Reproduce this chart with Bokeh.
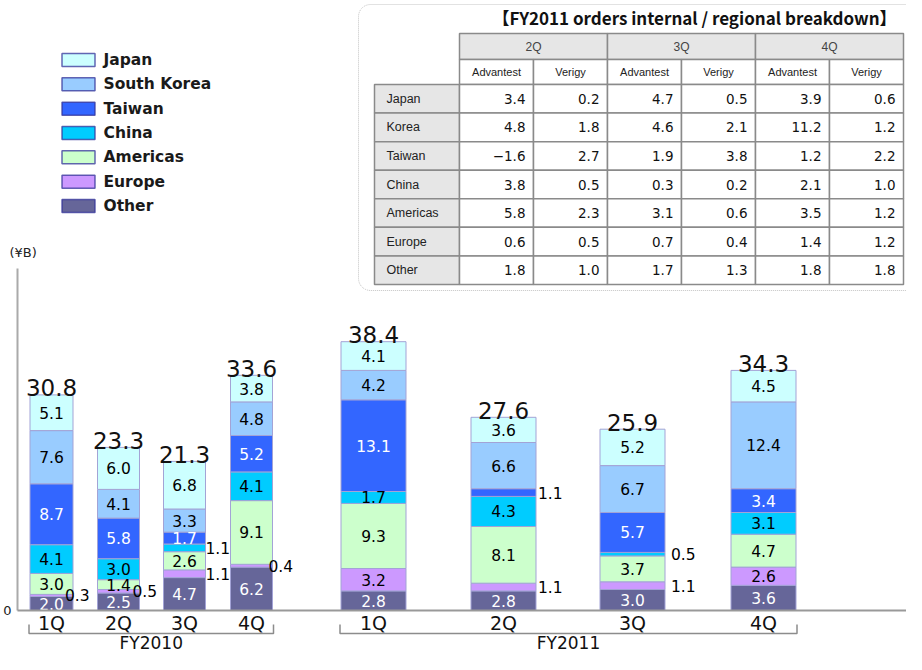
import numpy as np
from bokeh.plotting import figure
from bokeh.models import Range1d, ColumnDataSource
from bokeh.core.properties import value
from bokeh.embed import file_html
from bokeh.resources import INLINE

# ---------------- data ----------------
regions = ["Japan", "South Korea", "Taiwan", "China", "Americas", "Europe", "Other"]
quarters = ["1Q", "2Q", "3Q", "4Q", "1Q", "2Q", "3Q", "4Q"]
fiscal_years = ["FY2010", "FY2011"]
other = [2.0, 2.5, 4.7, 6.2, 2.8, 2.8, 3.0, 3.6]
europe = [0.3, 0.5, 1.1, 0.4, 3.2, 1.1, 1.1, 2.6]
americas = [3.0, 1.4, 2.6, 9.1, 9.3, 8.1, 3.7, 4.7]
china = [4.1, 3.0, 1.1, 4.1, 1.7, 4.3, 0.5, 3.1]
taiwan = [8.7, 5.8, 1.7, 5.2, 13.1, 1.1, 5.7, 3.4]
south_korea = [7.6, 4.1, 3.3, 4.8, 4.2, 6.6, 6.7, 12.4]
japan = [5.1, 6.0, 6.8, 3.8, 4.1, 3.6, 5.2, 4.5]
totals = [30.8, 23.3, 21.3, 33.6, 38.4, 27.6, 25.9, 34.3]
unit_label = "(¥B)"

table_title = "【FY2011 orders internal / regional breakdown】"
table_quarters = ["2Q", "3Q", "4Q"]
table_companies = ["Advantest", "Verigy"]
table_rows = ["Japan", "Korea", "Taiwan", "China", "Americas", "Europe", "Other"]
tbl_japan = [3.4, 0.2, 4.7, 0.5, 3.9, 0.6]
tbl_korea = [4.8, 1.8, 4.6, 2.1, 11.2, 1.2]
tbl_taiwan = [-1.6, 2.7, 1.9, 3.8, 1.2, 2.2]
tbl_china = [3.8, 0.5, 0.3, 0.2, 2.1, 1.0]
tbl_americas = [5.8, 2.3, 3.1, 0.6, 3.5, 1.2]
tbl_europe = [0.6, 0.5, 0.7, 0.4, 1.4, 1.2]
tbl_other = [1.8, 1.0, 1.7, 1.3, 1.8, 1.8]

# ---------------- layout / style ----------------
W, H = 906, 654
BASE = 610             # pixel row of the zero line
S = 7.0                # pixels per ¥B


def Y(py):
    return (BASE - py) / S


colors = {"Japan": "#ccffff", "South Korea": "#99ccff", "Taiwan": "#3366ff",
          "China": "#00ccff", "Americas": "#ccffcc", "Europe": "#cc99ff",
          "Other": "#666699"}
label_colors = {"Japan": "black", "South Korea": "black", "Taiwan": "white",
                "China": "black", "Americas": "black", "Europe": "black",
                "Other": "white"}
bar_x = [51, 118, 184, 251, 373, 503, 632, 763]
bar_w = [43, 42, 42, 42, 65, 65, 65, 65]
out_dx = [-8, -7, 0, -4, 2, 2, 6, 2]
NUMFONT = value("DejaVu Sans")
SANS = value("Liberation Sans")

p = figure(width=W, height=H, x_range=Range1d(0, W),
           y_range=Range1d(Y(H), Y(0)), output_backend="svg",
           toolbar_location=None, min_border=0)
p.axis.visible = False
p.grid.visible = False
p.outline_line_color = None
p.background_fill_color = "white"

# ---------------- bars ----------------
series = {"Japan": japan, "South Korea": south_korea, "Taiwan": taiwan,
          "China": china, "Americas": americas, "Europe": europe, "Other": other}
stack_order = ["Other", "Europe", "Americas", "China", "Taiwan", "South Korea", "Japan"]
src = ColumnDataSource(dict(x=bar_x, w=bar_w, **{k: series[k] for k in stack_order}))
p.vbar_stack(stack_order, x="x", width="w", source=src,
             fill_color=[colors[k] for k in stack_order],
             line_color="#a3a3d6", line_width=1)

# segment labels
lx, ly, lt, lc, la = [], [], [], [], []
for i in range(len(bar_x)):
    cum = 0.0
    for k in stack_order:
        v = series[k][i]
        mid = cum + v / 2
        cum += v
        if v < 1.2:
            lx.append(bar_x[i] + bar_w[i] / 2 + out_dx[i])
            la.append("left")
            lc.append("black")
        else:
            lx.append(bar_x[i])
            la.append("center")
            lc.append(label_colors[k])
        ly.append(mid)
        lt.append(f"{v:.1f}")
p.text(x="x", y="y", text="t", text_color="c", text_align="a",
       source=ColumnDataSource(dict(x=lx, y=ly, t=lt, c=lc, a=la)),
       text_baseline="middle", text_font=NUMFONT, text_font_size="15.5px")

# totals
p.text(x=bar_x, y=totals, text=[f"{t:.1f}" for t in totals], text_align="center",
       text_baseline="alphabetic", y_offset=-7, text_font=NUMFONT,
       text_font_size="23px", text_color="#111111")

# ---------------- axes ----------------
p.segment(x0=[17], y0=[Y(268)], x1=[17], y1=[0], line_color="#aaaaaa", line_width=2)
p.segment(x0=[17], y0=[0], x1=[W], y1=[0], line_color="#999999", line_width=2)
p.text(x=[11], y=[0], text=["0"], text_align="right", text_baseline="middle",
       text_font=NUMFONT, text_font_size="13px", text_color="#222222")
p.text(x=[9], y=[Y(252)], text=[unit_label], text_align="left", text_baseline="middle",
       text_font=NUMFONT, text_font_size="13px", text_color="#222222")

p.text(x=bar_x, y=[Y(622)] * len(bar_x), text=quarters, text_align="center",
       text_baseline="middle", text_font=NUMFONT, text_font_size="19px",
       text_color="#111111")
groups = [(0, 4), (4, 8)]
for gi, (a, b) in enumerate(groups):
    left = bar_x[a] - bar_w[a] / 2 - 1
    right = bar_x[b - 1] + bar_w[b - 1] / 2 + 1
    p.line(x=[left, left, right, right], y=[Y(624), Y(633), Y(633), Y(624)],
           line_color="#8c8c8c", line_width=1.5)
    p.text(x=[(left + right) / 2], y=[Y(642)], text=[fiscal_years[gi]],
           text_align="center", text_baseline="middle", text_font=NUMFONT,
           text_font_size="17px", text_color="#111111")

# ---------------- legend ----------------
leg_y = [59.5, 83.8, 108.2, 132.5, 156.8, 181.2, 205.5]
for k, yy in zip(regions, leg_y):
    p.rect(x=[78], y=[Y(yy)], width=33, height=13 / S, fill_color=colors[k],
           line_color="#333399", line_alpha=0.75, line_width=1.5)
    p.text(x=[103], y=[Y(yy)], text=[k], text_baseline="middle", text_align="left",
           text_font=NUMFONT, text_font_size="15.5px", text_font_style="bold",
           text_color="#1a1a1a")

# ---------------- table ----------------
# rounded dotted frame
bx0, bx1, by0, by1, r = 358, 930, 4, 290, 12
th = np.linspace(0, np.pi / 2, 12)
px = np.concatenate([[bx1], bx0 + r - r * np.cos(th)[::-1], bx0 + r - r * np.cos(th), [bx1]])
py = np.concatenate([[by0], by0 + r - r * np.sin(th)[::-1], by1 - r + r * np.sin(th), [by1]])
p.line(x=px, y=[Y(v) for v in py], line_color="#c4c4c4", line_width=1, line_dash="1 1")

p.text(x=[694], y=[Y(17)], text=[table_title], text_align="center", text_baseline="middle",
       text_font=value("Noto Sans CJK JP"), text_font_size="17px",
       text_font_style="bold", text_color="#111111")

cols = [374, 459, 533, 607, 681, 755, 829, 903]
rows = [33, 59, 84] + [84 + 200 / 7 * (i + 1) for i in range(7)]
GRID = "#8a8a8a"
HDR = "#e6e6e6"
ql, qr, qt, qb = [], [], [], []
for qi in range(3):
    ql.append(cols[1 + 2 * qi]); qr.append(cols[3 + 2 * qi])
    qt.append(Y(rows[0])); qb.append(Y(rows[1]))
p.quad(left=ql, right=qr, top=qt, bottom=qb, fill_color=HDR, line_color=GRID, line_width=1.5)
p.text(x=[(a + b) / 2 for a, b in zip(ql, qr)], y=[Y((rows[0] + rows[1]) / 2)] * 3,
       text=table_quarters, text_align="center", text_baseline="middle", text_font=SANS,
       text_font_size="12px", text_color="#444444")
cl, cr = cols[1:7], cols[2:8]
p.quad(left=cl, right=cr, top=[Y(rows[1])] * 6, bottom=[Y(rows[2])] * 6,
       fill_color="white", line_color=GRID, line_width=1.5)
p.text(x=[(a + b) / 2 for a, b in zip(cl, cr)], y=[Y((rows[1] + rows[2]) / 2)] * 6,
       text=table_companies * 3, text_align="center", text_baseline="middle",
       text_font=SANS, text_font_size="11px", text_color="#222222")
table_values = [tbl_japan, tbl_korea, tbl_taiwan, tbl_china, tbl_americas, tbl_europe, tbl_other]
for ri, (name, vals) in enumerate(zip(table_rows, table_values)):
    t, b = Y(rows[2 + ri]), Y(rows[3 + ri])
    ym = (t + b) / 2
    p.quad(left=[cols[0]], right=[cols[1]], top=[t], bottom=[b], fill_color=HDR,
           line_color=GRID, line_width=1.5)
    p.quad(left=cl, right=cr, top=[t] * 6, bottom=[b] * 6, fill_color="white",
           line_color=GRID, line_width=1.5)
    p.text(x=[cols[0] + 12], y=[ym], text=[name], text_align="left", text_baseline="middle",
           text_font=SANS, text_font_size="12.5px", text_color="#222222")
    p.text(x=[c - 8 for c in cr], y=[ym] * 6,
           text=[f"{v:.1f}".replace("-", "\u2212") for v in vals], text_align="right",
           text_baseline="middle", text_font=NUMFONT, text_font_size="13.5px",
           text_color="#111111")

open("out.html", "w").write(file_html(p, INLINE))
